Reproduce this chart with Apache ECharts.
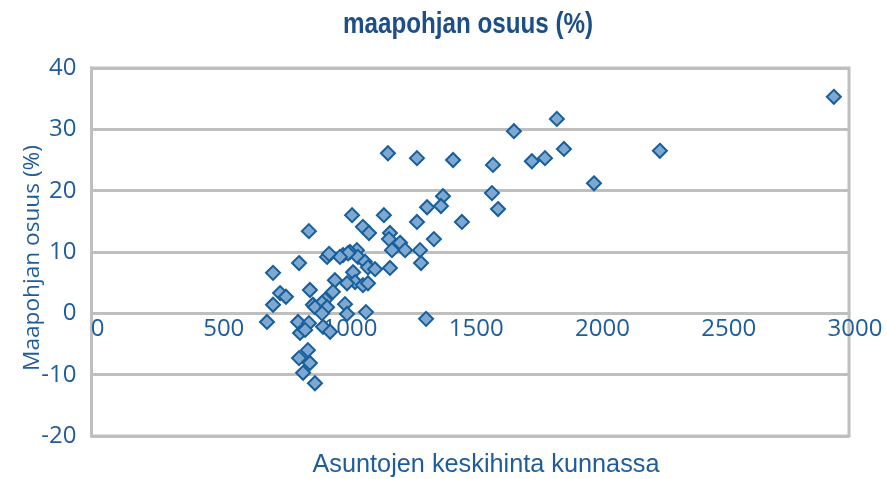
<!DOCTYPE html>
<html>
<head>
<meta charset="utf-8">
<script src="https://cdn.jsdelivr.net/npm/echarts@6/dist/echarts.min.js"></script>
<style>html,body{margin:0;padding:0;background:#fff}#c{width:887px;height:479px}</style>
</head>
<body>
<div id="c"></div>
<script>
const chartTitle = 'maapohjan osuus (%)';
const xAxisName = 'Asuntojen keskihinta kunnassa';
const yAxisName = 'Maapohjan osuus (%)';
const xTicks = [0, 500, 1000, 1500, 2000, 2500, 3000];
const yTicks = [-20, -10, 0, 10, 20, 30, 40];
// house price (x) values
const priceValues = [
  2940, 1843, 1673, 1871, 2251, 1174, 1289, 1432, 1796, 1744, 1590, 1990,
  1392, 1586, 1610, 1329, 1384, 1158, 1032, 1467, 1289, 861, 1075, 1099,
  1182, 1178, 1356, 1222, 1242, 1190, 1301, 1051, 1024, 1055, 996, 1016,
  984, 933, 941, 1305, 1083, 1095, 1123, 1182, 822, 1036, 719, 964,
  1044, 1075, 1095, 1012, 865, 956, 747, 770, 925, 877, 913, 719,
  1004, 885, 933, 1087, 1012, 913, 695, 818, 861, 917, 945, 826,
  846, 857, 822, 865, 838, 885, 1325
];
// land share (y) values
const shareValues = [
  35.3, 31.7, 29.7, 26.8, 26.5, 26.1, 25.3, 25.0, 25.3, 24.8, 24.2, 21.2,
  19.1, 19.6, 17.0, 17.3, 17.5, 16.0, 16.0, 14.9, 14.9, 13.4, 14.1, 13.1,
  13.1, 12.1, 12.1, 11.5, 10.3, 10.3, 10.3, 10.3, 10.0, 9.2, 9.5, 9.8,
  9.2, 9.2, 9.7, 8.2, 8.4, 7.5, 7.2, 7.4, 8.2, 6.7, 6.6, 5.4,
  5.1, 4.6, 4.9, 4.9, 3.8, 3.5, 3.3, 2.7, 2.2, 1.4, 1.7, 1.4,
  1.5, 1.0, 1.0, 0.2, -0.1, 0.0, -1.4, -1.4, -1.6, -2.2, -3.0, -3.2,
  -2.7, -6.0, -7.3, -8.1, -9.7, -11.4, -0.9
];

const points = priceValues.map((x, i) => [x, shareValues[i]]);
const gridGray = '#bfbfbf';
const labelBlue = '#1f5c9c';

// condensed-look text: measure and squeeze horizontally to target width
function fitScale(text, font, targetWidth) {
  const ctx = document.createElement('canvas').getContext('2d');
  ctx.font = font;
  return targetWidth / ctx.measureText(text).width;
}
const titleFont = 'bold 30px "Liberation Sans"';
const nameFont = '26px "Liberation Sans"';
const yNameFont = '22px "Open Sans"';
const titleScale = fitScale(chartTitle, titleFont, 250);
const nameScale = fitScale(xAxisName, nameFont, 347);
const yNameScale = fitScale(yAxisName, yNameFont, 226);

const gridTop = 68, gridBottom = 43, chartH = 479;
const plotH = chartH - gridTop - gridBottom;
const zeroOffset = plotH * (0 - yTicks[0]) / (yTicks[yTicks.length - 1] - yTicks[0]);

const chart = echarts.init(document.getElementById('c'));
chart.setOption({
  animation: false,
  backgroundColor: '#ffffff',
  graphic: [
    {
      type: 'text', x: 468, y: 25, scaleX: titleScale, scaleY: 1,
      style: { text: chartTitle, font: titleFont, fill: '#1c4e87', textAlign: 'center', textVerticalAlign: 'middle' }
    },
    {
      type: 'text', x: 486, y: 465, scaleX: nameScale, scaleY: 1,
      style: { text: xAxisName, font: nameFont, fill: labelBlue, textAlign: 'center', textVerticalAlign: 'middle' }
    },
    {
      type: 'text', x: 33, y: 258, rotation: Math.PI / 2, scaleX: yNameScale, scaleY: 1,
      style: { text: yAxisName, font: yNameFont, fill: labelBlue, textAlign: 'center', textVerticalAlign: 'middle' }
    }
  ],
  grid: {
    left: 91.5, right: 38, top: gridTop, bottom: gridBottom,
    show: true, borderColor: gridGray, borderWidth: 3, backgroundColor: 'transparent'
  },
  xAxis: {
    type: 'value',
    min: xTicks[0], max: xTicks[xTicks.length - 1], interval: 500,
    position: 'bottom',
    offset: -zeroOffset,
    axisLine: { show: true, onZero: false, lineStyle: { color: gridGray, width: 3 } },
    axisTick: { show: false },
    splitLine: { show: false },
    axisLabel: {
      color: labelBlue, fontFamily: 'Open Sans', fontSize: 24, margin: 4, padding: [0, 0, 0, 12],
      formatter: v => String(v)
    }
  },
  yAxis: {
    type: 'value',
    min: yTicks[0], max: yTicks[yTicks.length - 1], interval: 10,
    axisLine: { show: true, onZero: false, lineStyle: { color: gridGray, width: 3 } },
    axisTick: { show: false },
    splitLine: { show: true, lineStyle: { color: gridGray, width: 3 } },
    axisLabel: { color: labelBlue, fontFamily: 'Open Sans', fontSize: 24, margin: 15, formatter: v => String(v) }
  },
  series: [{
    type: 'scatter',
    data: points,
    symbol: 'diamond',
    symbolSize: 14,
    itemStyle: { color: '#7ea8cf', borderColor: '#165e9c', borderWidth: 2, opacity: 1 }
  }]
});
</script>
</body>
</html>
